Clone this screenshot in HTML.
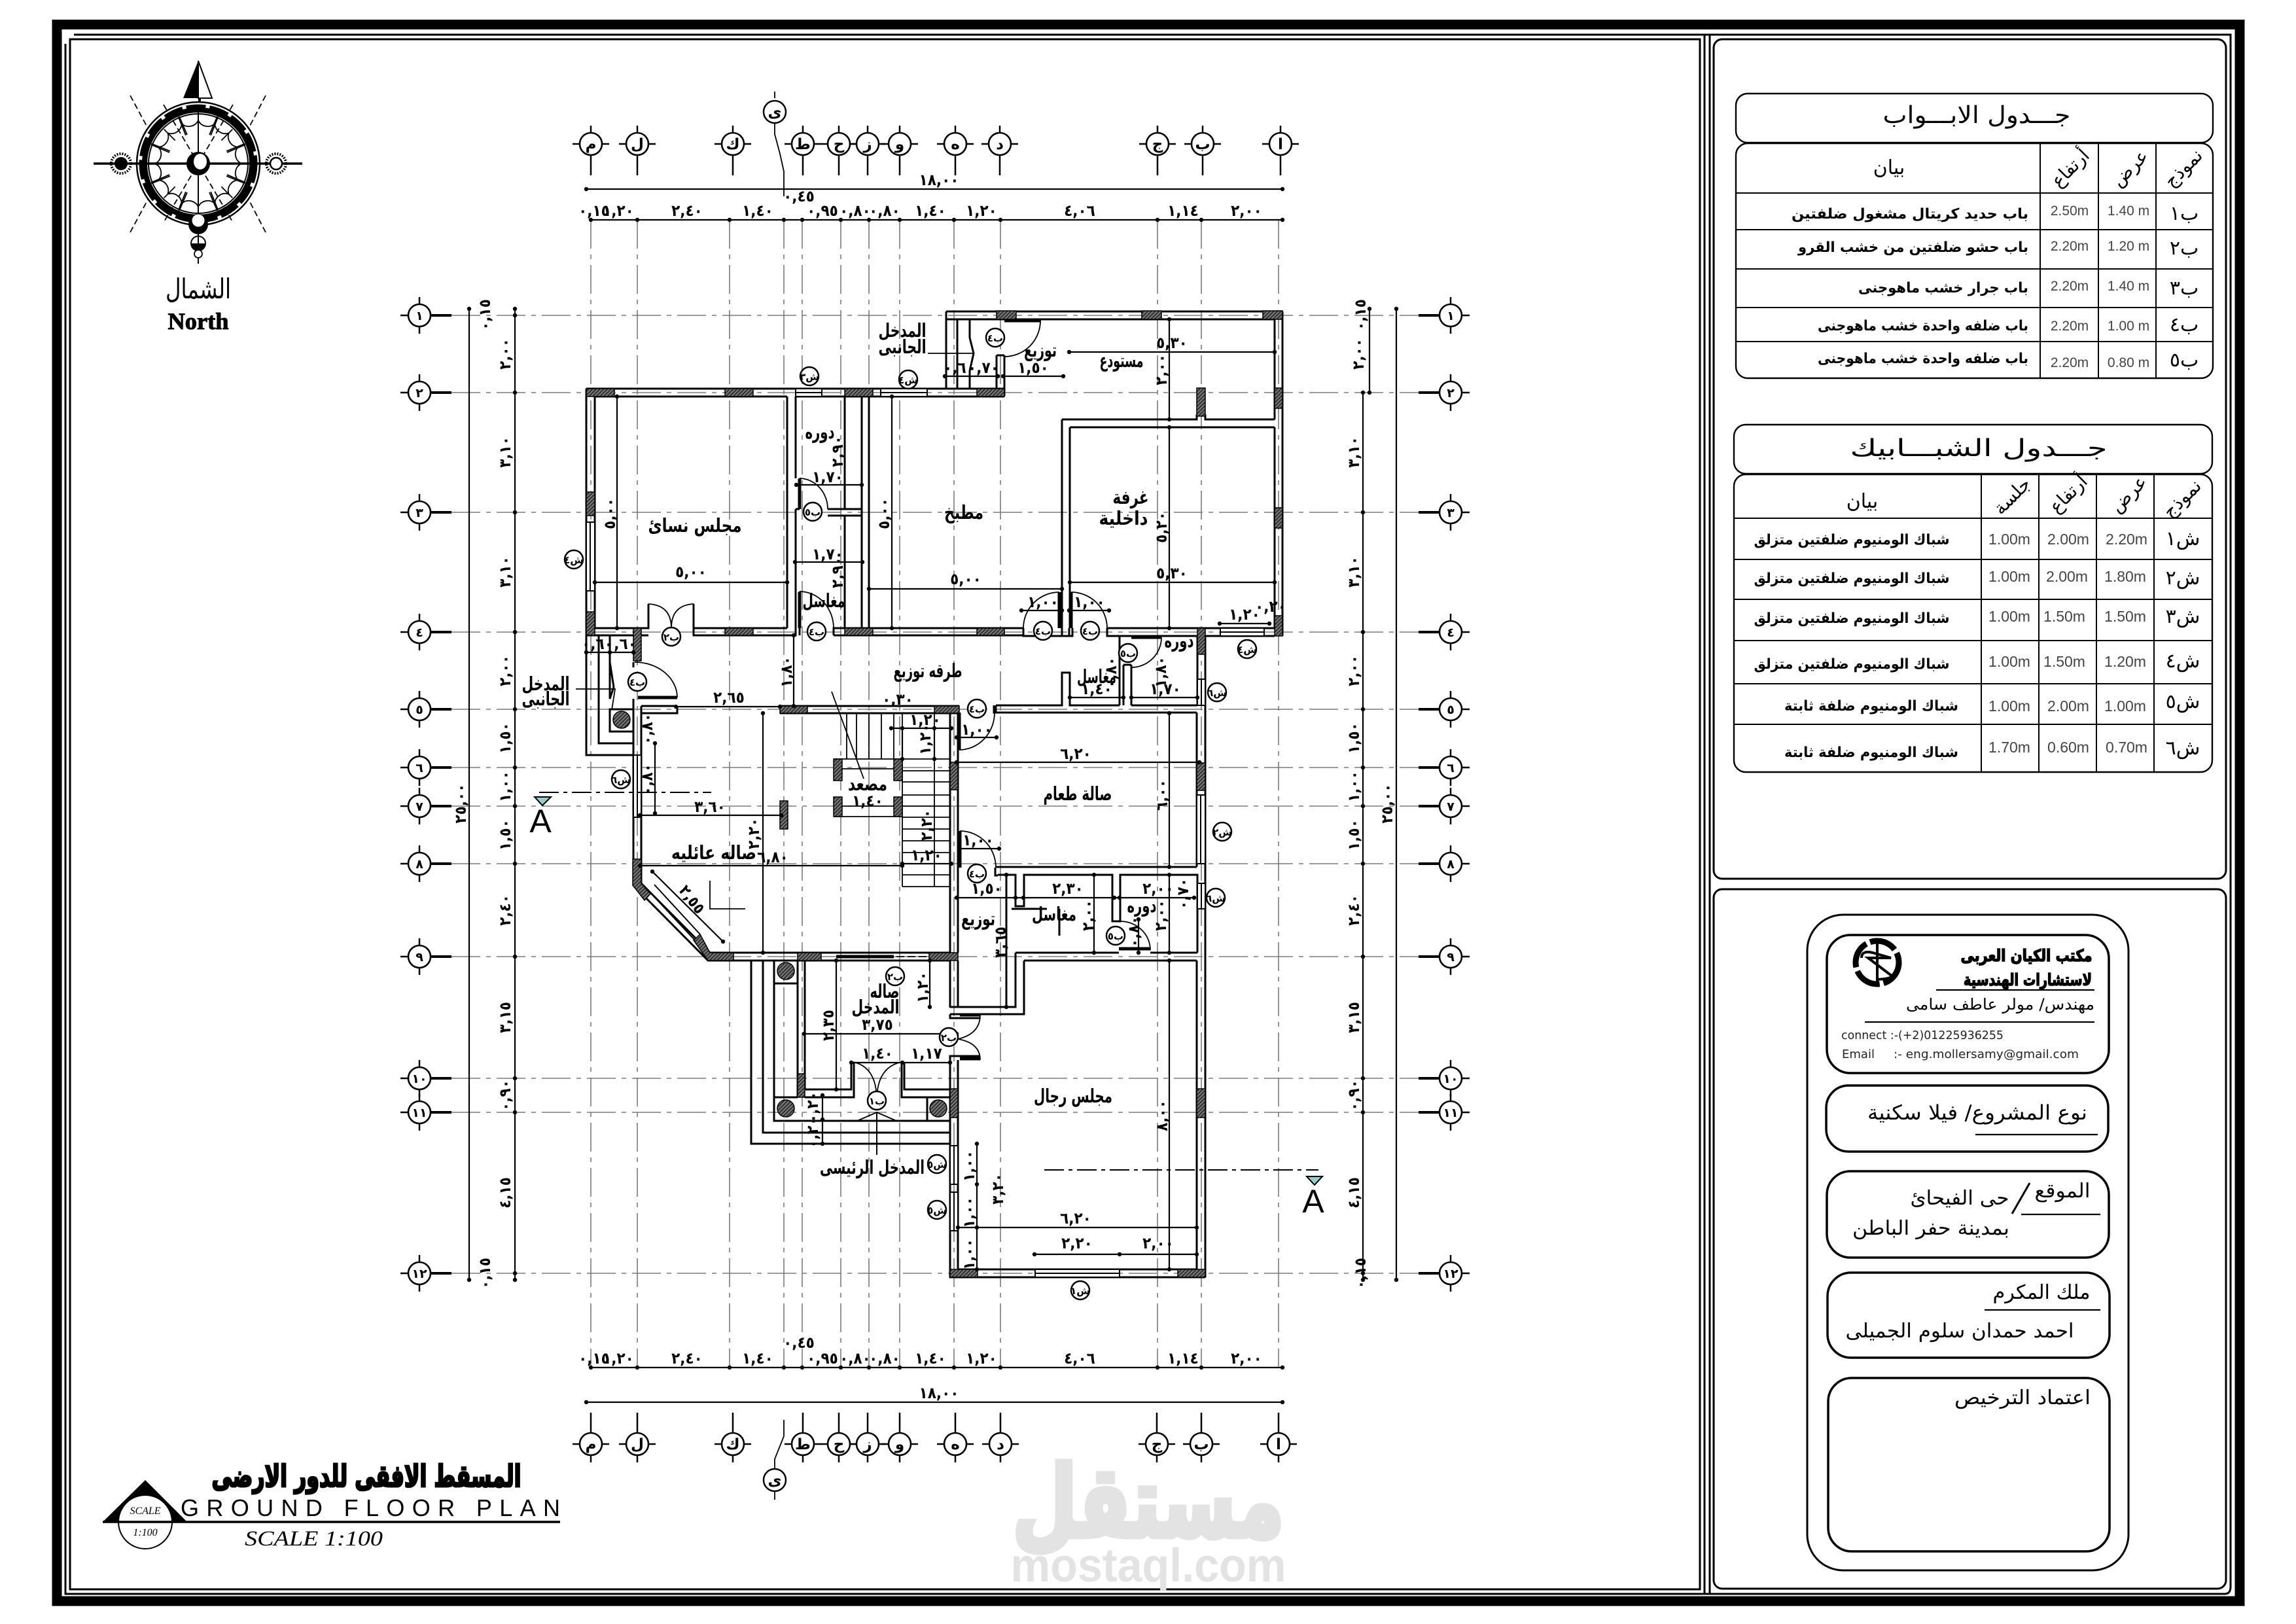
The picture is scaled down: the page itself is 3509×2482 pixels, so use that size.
<!DOCTYPE html>
<html lang="ar"><head><meta charset="utf-8"><title>Ground Floor Plan</title>
<style>
html,body{margin:0;padding:0;background:#fff}
svg{display:block}
text{font-family:"DejaVu Sans",sans-serif;fill:#000}
.a{direction:rtl;text-anchor:middle}
.w{fill:none;stroke:#000;stroke-width:3}
.t{fill:none;stroke:#000;stroke-width:1.8}
.g{fill:none;stroke:#7a7a7a;stroke-width:1.6;stroke-dasharray:44 9 7 9}
.d{fill:none;stroke:#000;stroke-width:2.2;marker-start:url(#dot);marker-mid:url(#dot);marker-end:url(#dot)}
.h{fill:url(#hat);stroke:#000;stroke-width:1.5}
.n{font-size:24px;font-weight:700;direction:rtl;text-anchor:middle;font-family:"DejaVu Sans Condensed","DejaVu Sans",sans-serif}
.r{font-size:29px;direction:rtl;text-anchor:middle;font-weight:700}
.b{font-size:15px;font-weight:700;direction:rtl;text-anchor:middle}
.c{fill:#fff;stroke:#000;stroke-width:2.5}
.v{font-family:"Liberation Sans",sans-serif;font-size:21px;text-anchor:middle;fill:#444}
.tb{font-size:22px;font-weight:700;direction:rtl;text-anchor:middle}
.hd{font-size:30px;direction:rtl;text-anchor:middle;font-family:"DejaVu Sans",sans-serif}
.f{fill:none;stroke:#000;stroke-width:3.5}
.ti{font-size:36px;direction:rtl;text-anchor:middle}
</style></head><body>
<svg xmlns="http://www.w3.org/2000/svg" width="3509" height="2482" viewBox="0 0 3509 2482">
<defs>
<pattern id="hat" width="4" height="4" patternUnits="userSpaceOnUse" patternTransform="rotate(45)"><rect width="4" height="4" fill="#777"/><rect width="1.6" height="4" fill="#222"/></pattern>
<marker id="dot" markerUnits="userSpaceOnUse" markerWidth="8" markerHeight="8" refX="4" refY="4"><circle cx="4" cy="4" r="3.2" fill="#000"/></marker>
<g id="bt"><circle r="17" fill="#fff" stroke="#000" stroke-width="2.6"/><path d="M-28 0H-17M17 0H28M0 -28V-17M0 17V48" fill="none" stroke="#000" stroke-width="2.5"/></g>
<g id="bb"><circle r="17" fill="#fff" stroke="#000" stroke-width="2.6"/><path d="M-28 0H-17M17 0H28M0 -48V-17M0 17V28" fill="none" stroke="#000" stroke-width="2.5"/></g>
<g id="bl"><circle r="17" fill="#fff" stroke="#000" stroke-width="2.6"/><path d="M-29 0H-17M0 -28V-17M0 17V28" fill="none" stroke="#000" stroke-width="2.5"/><path d="M17 0H49" stroke="#000" stroke-width="4"/></g>
<g id="br"><circle r="17" fill="#fff" stroke="#000" stroke-width="2.6"/><path d="M17 0H29M0 -28V-17M0 17V28" fill="none" stroke="#000" stroke-width="2.5"/><path d="M-49 0H-17" stroke="#000" stroke-width="4"/></g>
<path id="tk" d="M303 200V176M320 206L332 178M286 206L274 178" fill="none" stroke="#000" stroke-width="1.8"/>
</defs>
<rect width="3509" height="2482" fill="#fff"/>

<!-- frame -->
<rect x="87" y="37.500" width="3336" height="2409.500" fill="none" stroke="#000" stroke-width="15"/>
<path d="M100 67V2436H3400Q3409 2436 3409 2425V53H113" fill="none" stroke="#000" stroke-width="3"/>
<rect x="107" y="60" width="2491" height="2369" fill="none" stroke="#000" stroke-width="3"/>
<path d="M2605 53V2436M2613 53V2436" fill="none" stroke="#000" stroke-width="3"/>
<rect x="2619" y="60" width="783" height="1283" rx="13" fill="none" stroke="#000" stroke-width="3"/>
<rect x="2619" y="1359" width="783" height="1069" rx="13" fill="none" stroke="#000" stroke-width="3"/>

<!-- grid -->
<path class="g" d="M903 336V2090M974 336V2090M1115 336V2090M1198 336V2090M1226 336V2090M1285 336V2090M1328 336V2090M1375 336V2090M1458 336V2090M1529 336V2090M1769 336V2090M1836 336V2090M1954 336V2090"/>
<path class="g" d="M690 482H2170M690 600H2170M690 783H2170M690 966H2170M690 1084H2170M690 1173H2170M690 1232H2170M690 1320H2170M690 1462H2170M690 1648H2170M690 1700H2170M690 1946H2170"/>

<!-- top dims -->
<path class="d" d="M896 289H1960"/>
<path class="d" d="M903 336H974H1115H1198H1226H1285H1328H1375H1458H1529H1769H1836H1960"/>
<path class="d" d="M903 2090H974H1115H1198H1226H1285H1328H1375H1458H1529H1769H1836H1960"/>
<path class="d" d="M896 2143H1960"/>
<g class="n">
<text class="n" x="1435" y="283">١٨,٠٠</text>
<text class="n" x="1221" y="308">٠,٤٥</text>
<text class="n" x="908" y="330">٠,١٥</text><text class="n" x="945" y="330">١,٢٠</text><text class="n" x="1050" y="330">٢,٤٠</text><text class="n" x="1158" y="330">١,٤٠</text><text class="n" x="1257" y="330">٠,٩٥</text><text class="n" x="1307" y="330">٠,٨٠</text><text class="n" x="1352" y="330">٠,٨٠</text><text class="n" x="1422" y="330">١,٤٠</text><text class="n" x="1500" y="330">١,٢٠</text><text class="n" x="1650" y="330">٤,٠٦</text><text class="n" x="1808" y="330">١,١٤</text><text class="n" x="1905" y="330">٢,٠٠</text>
<text class="n" x="908" y="2084">٠,١٥</text><text class="n" x="945" y="2084">١,٢٠</text><text class="n" x="1050" y="2084">٢,٤٠</text><text class="n" x="1158" y="2084">١,٤٠</text><text class="n" x="1257" y="2084">٠,٩٥</text><text class="n" x="1307" y="2084">٠,٨٠</text><text class="n" x="1352" y="2084">٠,٨٠</text><text class="n" x="1422" y="2084">١,٤٠</text><text class="n" x="1500" y="2084">١,٢٠</text><text class="n" x="1650" y="2084">٤,٠٦</text><text class="n" x="1808" y="2084">١,١٤</text><text class="n" x="1905" y="2084">٢,٠٠</text>
<text class="n" x="1221" y="2060">٠,٤٥</text>
<text class="n" x="1435" y="2137">١٨,٠٠</text>
</g>

<!-- bubbles top/bottom -->
<g>
<use href="#bt" x="903" y="220"/><use href="#bt" x="974" y="220"/><use href="#bt" x="1120" y="220"/><use href="#bt" x="1227" y="220"/><use href="#bt" x="1282" y="220"/><use href="#bt" x="1326" y="220"/><use href="#bt" x="1375" y="220"/><use href="#bt" x="1460" y="220"/><use href="#bt" x="1528" y="220"/><use href="#bt" x="1769" y="220"/><use href="#bt" x="1838" y="220"/><use href="#bt" x="1957" y="220"/>
<use href="#bb" x="903" y="2207"/><use href="#bb" x="974" y="2207"/><use href="#bb" x="1120" y="2207"/><use href="#bb" x="1227" y="2207"/><use href="#bb" x="1282" y="2207"/><use href="#bb" x="1326" y="2207"/><use href="#bb" x="1375" y="2207"/><use href="#bb" x="1460" y="2207"/><use href="#bb" x="1529" y="2207"/><use href="#bb" x="1768" y="2207"/><use href="#bb" x="1836" y="2207"/><use href="#bb" x="1954" y="2207"/>
<circle class="c" cx="1184" cy="171" r="17"/><path class="t" d="M1184 188V205L1192 235L1198 262V300M1184 150V140"/>
<circle class="c" cx="1184" cy="2262" r="17"/><path class="t" d="M1184 2245V2230L1198 2195V2170M1184 2279V2292"/>
</g>
<g style="font-size:23px;font-weight:700;direction:rtl;text-anchor:middle">
<text x="903" y="228">م</text><text x="974" y="228">ل</text><text x="1120" y="228">ك</text><text x="1184" y="179">ى</text><text x="1227" y="228">ط</text><text x="1282" y="228">ح</text><text x="1326" y="228">ز</text><text x="1375" y="228">و</text><text x="1460" y="228">ه</text><text x="1528" y="228">د</text><text x="1769" y="228">ج</text><text x="1838" y="228">ب</text><text x="1957" y="228">ا</text>
<text x="903" y="2215">م</text><text x="974" y="2215">ل</text><text x="1120" y="2215">ك</text><text x="1184" y="2270">ى</text><text x="1227" y="2215">ط</text><text x="1282" y="2215">ح</text><text x="1326" y="2215">ز</text><text x="1375" y="2215">و</text><text x="1460" y="2215">ه</text><text x="1529" y="2215">د</text><text x="1768" y="2215">ج</text><text x="1836" y="2215">ب</text><text x="1954" y="2215">ا</text>
</g>
<!-- row bubbles -->
<g>
<use href="#bl" x="641" y="482"/><use href="#bl" x="641" y="600"/><use href="#bl" x="641" y="783"/><use href="#bl" x="641" y="966"/><use href="#bl" x="641" y="1084"/><use href="#bl" x="641" y="1173"/><use href="#bl" x="641" y="1232"/><use href="#bl" x="641" y="1320"/><use href="#bl" x="641" y="1462"/><use href="#bl" x="641" y="1648"/><use href="#bl" x="641" y="1700"/><use href="#bl" x="641" y="1946"/>
<use href="#br" x="2217" y="482"/><use href="#br" x="2217" y="600"/><use href="#br" x="2217" y="783"/><use href="#br" x="2217" y="966"/><use href="#br" x="2217" y="1084"/><use href="#br" x="2217" y="1173"/><use href="#br" x="2217" y="1232"/><use href="#br" x="2217" y="1320"/><use href="#br" x="2217" y="1462"/><use href="#br" x="2217" y="1648"/><use href="#br" x="2217" y="1700"/><use href="#br" x="2217" y="1946"/>
</g>
<g style="font-size:19px;font-weight:700;text-anchor:middle">
<text x="641" y="489">١</text><text x="641" y="607">٢</text><text x="641" y="790">٣</text><text x="641" y="973">٤</text><text x="641" y="1091">٥</text><text x="641" y="1180">٦</text><text x="641" y="1239">٧</text><text x="641" y="1327">٨</text><text x="641" y="1469">٩</text><text x="641" y="1655">١٠</text><text x="641" y="1707">١١</text><text x="641" y="1953">١٢</text>
<text x="2217" y="489">١</text><text x="2217" y="607">٢</text><text x="2217" y="790">٣</text><text x="2217" y="973">٤</text><text x="2217" y="1091">٥</text><text x="2217" y="1180">٦</text><text x="2217" y="1239">٧</text><text x="2217" y="1327">٨</text><text x="2217" y="1469">٩</text><text x="2217" y="1655">١٠</text><text x="2217" y="1707">١١</text><text x="2217" y="1953">١٢</text>
</g>
<!-- side dims -->
<path class="d" d="M717 472V1956"/>
<path class="d" d="M787 472V482V600V783V966V1084V1173V1232V1320V1462V1648V1700V1946V1956"/>
<path class="d" d="M2134 472V1956"/>
<path class="d" d="M2093 472V600"/>
<path class="d" d="M2083 600V783V966V1084V1173V1232V1320V1462V1648V1700V1946V1956"/>
<g>
<text class="n" transform="translate(706 1228) rotate(-90)" x="0" y="6">٢٥,٠٠</text>
<text class="n" transform="translate(2122 1228) rotate(-90)" x="0" y="6">٢٥,٠٠</text>
<text class="n" transform="translate(743 481) rotate(-90)" x="0" y="6">٠,١٥</text>
<text class="n" transform="translate(743 1946) rotate(-90)" x="0" y="6">٠,١٥</text>
<text class="n" transform="translate(2081 481) rotate(-90)" x="0" y="6">٠,١٥</text>
<text class="n" transform="translate(2081 1946) rotate(-90)" x="0" y="6">٠,١٥</text>
<text class="n" transform="translate(774 541) rotate(-90)" x="0" y="6">٢,٠٠</text><text class="n" transform="translate(774 691) rotate(-90)" x="0" y="6">٣,١٠</text><text class="n" transform="translate(774 874) rotate(-90)" x="0" y="6">٣,١٠</text><text class="n" transform="translate(774 1025) rotate(-90)" x="0" y="6">٢,٠٠</text><text class="n" transform="translate(774 1128) rotate(-90)" x="0" y="6">١,٥٠</text><text class="n" transform="translate(774 1202) rotate(-90)" x="0" y="6">١,٠٠</text><text class="n" transform="translate(774 1276) rotate(-90)" x="0" y="6">١,٥٠</text><text class="n" transform="translate(774 1391) rotate(-90)" x="0" y="6">٢,٤٠</text><text class="n" transform="translate(774 1555) rotate(-90)" x="0" y="6">٣,١٥</text><text class="n" transform="translate(774 1674) rotate(-90)" x="0" y="6">٠,٩٠</text><text class="n" transform="translate(774 1823) rotate(-90)" x="0" y="6">٤,١٥</text>
<text class="n" transform="translate(2078 541) rotate(-90)" x="0" y="6">٢,٠٠</text><text class="n" transform="translate(2071 691) rotate(-90)" x="0" y="6">٣,١٠</text><text class="n" transform="translate(2071 874) rotate(-90)" x="0" y="6">٣,١٠</text><text class="n" transform="translate(2071 1025) rotate(-90)" x="0" y="6">٢,٠٠</text><text class="n" transform="translate(2071 1128) rotate(-90)" x="0" y="6">١,٥٠</text><text class="n" transform="translate(2071 1202) rotate(-90)" x="0" y="6">١,٠٠</text><text class="n" transform="translate(2071 1276) rotate(-90)" x="0" y="6">١,٥٠</text><text class="n" transform="translate(2071 1391) rotate(-90)" x="0" y="6">٢,٤٠</text><text class="n" transform="translate(2071 1555) rotate(-90)" x="0" y="6">٣,١٥</text><text class="n" transform="translate(2071 1674) rotate(-90)" x="0" y="6">٠,٩٠</text><text class="n" transform="translate(2071 1823) rotate(-90)" x="0" y="6">٤,١٥</text>
</g>

<!-- walls -->
<path class="w" d="M896 594H1535M909 606H1203M1216 606H1535M896 594V971M909 606V960M909 960H991V923M896 971H991M1060 923V971H1203M1060 960H1203M1203 606V960M1216 606V731M1216 778V971H1203M1222 731V778M1222 904V971M1216 778H1222M1274 971V960H1564M1274 971H1564M1265 778H1317M1265 788H1317M1291 606V778M1291 788V960M1317 606V960M1328 606V960M1623 641V960M1635 653V960"/>
<path class="w" d="M1446 476H1960M1446 488H1948M1446 476V594M1463 488V594M1482 488V516L1488 540L1482 567V594M1960 476V972M1948 488V641M1948 653V960M1623 641H1829V635H1842V641H1948M1635 653H1948M1523 543V594M1535 543V605M1523 543H1535"/>
<path class="w" d="M1564 960V972H1623V960M1564 972H1623M1634 960V972H1639V960M1692 960V972H1948M1692 960H1948M1623 972H1640"/>
<path class="w" d="M1830 972V1078M1842 972V1952M1711 972V1078M1717 1016V1078M1729 1016V1078M1717 1016H1729M1522 1078H1623V1028H1635V1078H1711M1729 1078H1830M1522 1089H1829M1519 1078V1089H1522V1078"/>
<path class="w" d="M1192 1079H1466M1192 1090H1466M1452 1089V1456M1464 1089V1456M1829 1089V1325M1522 1325H1829M1525 1337H1538M1521 1326V1338H1525M1538 1337H1552V1385H1565V1337H1700V1408H1712V1337H1830V1456M1552 1456H1710M1758 1456H1830M1538 1337V1539M1552 1456V1539H1452M1565 1468V1550H1452M1565 1468H1829M1829 1468V1940H1464M1464 1620V1940M1452 1620V1952H1842M1700 1408H1712M1546 1389H1600M1619 1389V1430"/>
<path class="w" d="M968 1012V1020M968 1068V1353L1082 1468H1452M980 1079V1350L1085 1456H1452M980 1079H1035M980 1090H1035V1079"/>
<path class="w" d="M896 971V1154H968M915 971V1136H968M932 971V1068L938 1050L932 1012M932 1084H968V1118H932V1084"/>
<!-- entry -->
<path class="w" d="M1148 1468V1748H1452M1166 1468V1731H1452M1183 1468V1713H1452M1219 1468V1677M1230 1468V1665H1301V1623M1305 1623V1677H1230M1378 1623V1677H1452M1382 1623V1665H1452M1183 1503H1219M1183 1677H1219M1417 1677V1713M1452 1468V1540M1464 1468V1540"/>
<path class="w" d="M1452 1550V1556H1498M1452 1620V1614H1498"/>
<path d="M1467 1551H1498M1467 1618H1498" stroke="#000" stroke-width="5" fill="none"/>
<path class="t" d="M1498 1551Q1498 1580 1464 1588Q1498 1594 1498 1620M1303 1623Q1340 1630 1340 1682Q1340 1630 1379 1623M1310 1713L1340 1700L1370 1713M1340 1700V1765"/>
<path class="t" d="M1278 1456H1365M1302 1462H1420" stroke-dasharray="12 5"/>
<!-- section / dashed door -->
<path d="M1278 1462H1366" stroke="#000" stroke-width="5"/>
<!-- stairs -->
<path class="t" d="M1379 1160H1452M1379 1178H1452M1379 1195H1452M1379 1215H1452M1379 1232H1452M1379 1249H1452M1379 1267H1452M1379 1285H1452M1379 1303H1452M1379 1320H1452M1379 1337H1452M1379 1355H1452M1379 1090V1355M1428 1090V1355M1294 1090V1160M1309 1090V1160M1328 1090V1160M1347 1090V1160M1366 1090V1160M1274 1160H1379M1274 1175H1379M1274 1232H1379M1274 1248H1379M1271 1057L1320 1190"/>
<!-- columns -->
<g class="h">
<rect class="h" x="896" y="594" width="43" height="12"/><rect class="h" x="1108" y="594" width="43" height="12"/><rect class="h" x="1291" y="594" width="43" height="12"/><rect class="h" x="1493" y="594" width="42" height="12"/>
<rect class="h" x="896" y="752" width="13" height="36"/><rect class="h" x="896" y="935" width="13" height="36"/>
<rect class="h" x="1108" y="960" width="43" height="11"/><rect class="h" x="1291" y="960" width="43" height="11"/><rect class="h" x="1493" y="960" width="42" height="11"/>
<rect class="h" x="968" y="960" width="12" height="50"/>
<rect class="h" x="1523" y="475" width="30" height="13"/><rect class="h" x="1745" y="475" width="30" height="13"/><rect class="h" x="1930" y="475" width="30" height="13"/>
<rect class="h" x="1829" y="593" width="13" height="43"/><rect class="h" x="1948" y="593" width="12" height="31"/><rect class="h" x="1948" y="776" width="12" height="31"/><rect class="h" x="1948" y="941" width="12" height="31"/><rect class="h" x="1830" y="960" width="12" height="40"/>
<rect class="h" x="1192" y="1079" width="42" height="11"/><rect class="h" x="1428" y="1079" width="38" height="11"/>
<rect class="h" x="1452" y="1165" width="12" height="42"/><rect class="h" x="1829" y="1166" width="13" height="42"/>
<rect class="h" x="1274" y="1160" width="13" height="33"/><rect class="h" x="1274" y="1218" width="13" height="30"/><rect class="h" x="1366" y="1160" width="13" height="33"/><rect class="h" x="1366" y="1218" width="13" height="30"/>
<rect class="h" x="1192" y="1224" width="12" height="43"/>
<polygon class="h" points="967,1313 980,1313 980,1350 994,1366 985,1376 967,1353"/><polygon class="h" points="1060,1437 1070,1428 1085,1456 1121,1456 1121,1468 1082,1468"/>
<rect class="h" x="1219" y="1456" width="36" height="12"/><rect class="h" x="1420" y="1456" width="44" height="12"/>
<rect class="h" x="1219" y="1641" width="11" height="36"/><rect class="h" x="1452" y="1664" width="12" height="44"/><rect class="h" x="1829" y="1664" width="13" height="44"/>
<rect class="h" x="1452" y="1940" width="42" height="12"/><rect class="h" x="1800" y="1940" width="42" height="12"/>
<circle class="h" cx="1201" cy="1484" r="13"/><circle class="h" cx="1201" cy="1694" r="13"/><circle class="h" cx="1434" cy="1694" r="13"/><circle class="h" cx="950" cy="1100" r="13"/>
</g>
<rect class="w" x="932" y="1084" width="36" height="34" style="fill:none"/>
<!-- windows -->
<g fill="#fff" stroke="#000" stroke-width="2">
<rect x="1216" y="594" width="40" height="12"/><path d="M1216 600H1256"/>
<rect x="1346" y="594" width="71" height="12"/><path d="M1346 600H1417"/>
<rect x="896" y="798" width="13" height="105"/><path d="M902 798V903"/>
<rect x="1865" y="960" width="67" height="12"/><path d="M1865 966H1932"/>
<rect x="1830" y="1038" width="12" height="40"/><path d="M1836 1038V1078"/>
<rect x="1829" y="1215" width="13" height="105"/><path d="M1835 1215V1320"/>
<rect x="1830" y="1350" width="12" height="39"/><path d="M1836 1350V1389"/>
<rect x="1452" y="1751" width="12" height="59"/><path d="M1458 1751V1810"/>
<rect x="1452" y="1822" width="12" height="59"/><path d="M1458 1822V1881"/>
<rect x="1582" y="1940" width="129" height="12"/><path d="M1582 1946H1711"/>
<rect x="968" y="1154" width="12" height="95"/><path d="M974 1154V1249"/>
<path d="M990 1360L1062 1437M1000 1352L1070 1428" fill="none"/>
</g>
<!-- door leaves and arcs -->
<path d="M1535 490H1590M1222 732V778M1222 905V960M1619 905V960M1637 905V960M1729 974H1775M975 1066H1035M1466 1089V1146M1467 1270V1326M1710 1450H1758" stroke="#000" stroke-width="5" fill="none"/>
<path class="t" d="M1590 488A55 55 0 0 1 1535 545M1222 731A44 47 0 0 1 1265 778M1222 904A52 56 0 0 1 1274 960M1564 960A55 55 0 0 1 1619 905M1692 960A55 55 0 0 0 1637 905M1775 974A46 46 0 0 1 1729 1020M1035 1066A65 54 0 0 0 970 1012M1520 1089A54 57 0 0 1 1466 1146M1467 1270A55 56 0 0 1 1522 1326M1712 1408A46 44 0 0 1 1758 1452M991 923Q1026 925 1026 960Q1026 925 1060 923"/>
<!-- leaders -->
<path class="t" d="M1418 540H1488M880 1053H940L935 1085M1340 1700V1765"/>
<!-- section marks -->
<path d="M824 1211H1087" stroke="#000" stroke-width="2" stroke-dasharray="30 7 6 7" fill="none"/>
<path d="M1596 1788H2015" stroke="#000" stroke-width="2" stroke-dasharray="30 7 6 7" fill="none"/>
<path d="M817 1218H842L829 1231Z" fill="#9cc" stroke="#000" stroke-width="2"/>
<path d="M1997 1798H2021L2009 1811Z" fill="#9cc" stroke="#000" stroke-width="2"/>
<text x="826" y="1272" text-anchor="middle" style="font-family:'Liberation Sans',sans-serif;font-size:50px">A</text>
<text x="2007" y="1853" text-anchor="middle" style="font-family:'Liberation Sans',sans-serif;font-size:50px">A</text>

<!-- interior dimensions -->
<path class="d" d="M909 890H1203M1328 900H1623M1635 890H1948M1634 538H1948M1787 488V641M1787 653V960M943 606V960M1363 606V960M1217 741H1317M1215 859H1318M1213 971V1079M1444 575H1525M1533 575H1625M1561 933H1623M1634 933H1695M1864 953H1940M1635 1066H1717M1729 1066H1830M896 997H932H968M1362 1113H1454M1462 1127H1523M1462 1165H1833M1001 1136V1243M1033 1080H1192M1166 1090V1456M978 1246H1194M978 1323H1379M997 1332L1105 1439M1466 1297H1527M1787 1090V1325M1462 1372H1552H1564H1703H1711H1825M1672 1337V1456M1787 1337V1456M1740 1405V1456M1538 1337V1539M1421 1468V1539M1229 1580H1462M1278 1468V1665M1301 1624H1379H1452M1257 1674V1711V1748M1787 1468V1940M1493 1748V1810V1876V1940M1464 1876H1829M1581 1917H1711H1829M1379 1113V1160M1428 1113V1160M1379 1320H1454"/>
<path class="t" d="M1085 1346V1389H1139"/>
<g>
<text class="n" x="1056" y="882">٥,٠٠</text><text class="n" x="1476" y="893">٥,٠٠</text><text class="n" x="1791" y="884">٥,٣٠</text><text class="n" x="1791" y="532">٥,٣٠</text>
<text class="n" transform="translate(1777 565) rotate(-90)" y="6">٢,٠٠</text><text class="n" transform="translate(1777 806) rotate(-90)" y="6">٥,٢٠</text><text class="n" transform="translate(934 785) rotate(-90)" y="6">٥,٠٠</text><text class="n" transform="translate(1353 785) rotate(-90)" y="6">٥,٠٠</text><text class="n" transform="translate(1282 690) rotate(-90)" y="6">٢,٩٠</text><text class="n" transform="translate(1282 875) rotate(-90)" y="6">٢,٩٠</text>
<text class="n" x="1265" y="737">١,٧٠</text><text class="n" x="1265" y="855">١,٧٠</text><text class="n" x="1114" y="1074">٢,٦٥</text>
<text class="n" transform="translate(1204 1027) rotate(-90)" y="6">١,٨٠</text>
<text class="n" x="1466" y="570">٠,٦٠</text><text class="n" x="1503" y="570">٠,٧٠</text><text class="n" x="1579" y="570">١,٥٠</text>
<text class="n" x="1594" y="928">١,٠٠</text><text class="n" x="1665" y="928">١,٠٠</text><text class="n" x="1902" y="947">١,٢٠</text><text class="n" x="1942" y="935">٠,٢٠</text>
<text class="n" x="1676" y="1061">١,٤٠</text><text class="n" x="1781" y="1061">١,٧٠</text>
<text class="n" transform="translate(1700 1028) rotate(-90)" y="6">٠,٨٠</text><text class="n" transform="translate(1776 1027) rotate(-90)" y="6">١,٨٠</text>
<text class="n" x="913" y="992">٠,٦٠</text><text class="n" x="949" y="992">٠,٦٠</text>
<text class="n" x="1372" y="1077">٠,٣٠</text><text class="n" x="1414" y="1108">١,٢٠</text>
<text class="n" transform="translate(1416 1130) rotate(-90)" y="6">١,٢٠</text>
<text class="n" x="1493" y="1123">١,٠٠</text><text class="n" x="1644" y="1160">٦,٢٠</text>
<text class="n" transform="translate(991 1114) rotate(-90)" y="6">٠,٨٠</text><text class="n" transform="translate(991 1191) rotate(-90)" y="6">٠,٨٠</text>
<text class="n" x="1085" y="1241">٣,٦٠</text><text class="n" transform="translate(1154 1274) rotate(-90)" y="6">٢,٢٠</text><text class="n" x="1181" y="1318">٦,٨٠</text>
<text class="n" transform="translate(1056 1376) rotate(52)" y="6">٢,٥٥</text>
<text class="n" transform="translate(1418 1261) rotate(-90)" y="6">٢,٢٠</text><text class="n" x="1416" y="1315">١,٢٠</text><text class="n" x="1495" y="1292">١,٠٠</text>
<text class="n" transform="translate(1778 1215) rotate(-90)" y="6">٦,٠٠</text>
<text class="n" x="1508" y="1366">١,٥٠</text><text class="n" x="1632" y="1366">٢,٣٠</text><text class="n" x="1770" y="1366">٢,٠٠</text>
<text class="n" transform="translate(1810 1366) rotate(-90)" y="6">٠,٧٠</text>
<text class="n" transform="translate(1665 1399) rotate(-90)" y="6">٢,٠٠</text><text class="n" transform="translate(1776 1399) rotate(-90)" y="6">٢,٠٠</text><text class="n" transform="translate(1735 1424) rotate(-90)" y="6">٠,٨٠</text><text class="n" transform="translate(1531 1440) rotate(-90)" y="6">٣,٦٥</text>
<text class="n" transform="translate(1412 1509) rotate(-90)" y="6">١,٢٠</text>
<text class="n" x="1341" y="1574">٣,٧٥</text><text class="n" transform="translate(1268 1567) rotate(-90)" y="6">٢,٣٥</text>
<text class="n" x="1341" y="1618">١,٤٠</text><text class="n" x="1416" y="1618">١,١٧</text>
<text class="n" transform="translate(1244 1692) rotate(-90)" y="6">٠,٢٠</text><text class="n" transform="translate(1244 1731) rotate(-90)" y="6">٠,٢٠</text>
<text class="n" transform="translate(1778 1705) rotate(-90)" y="6">٨,٠٠</text>
<text class="n" transform="translate(1483 1782) rotate(-90)" y="6">١,٠٠</text><text class="n" transform="translate(1483 1853) rotate(-90)" y="6">١,٠٠</text><text class="n" transform="translate(1483 1917) rotate(-90)" y="6">١,٠٠</text>
<text class="n" transform="translate(1527 1817) rotate(-90)" y="6">٣,٢٠</text>
<text class="n" x="1644" y="1870">٦,٢٠</text><text class="n" x="1646" y="1908">٢,٢٠</text><text class="n" x="1770" y="1908">٢,٠٠</text>
</g>

<!-- room labels -->
<text class="r" x="1062" y="813" textLength="143" lengthAdjust="spacingAndGlyphs">مجلس نسائ</text>
<text class="r" x="1473" y="793" textLength="60" lengthAdjust="spacingAndGlyphs">مطبخ</text>
<text class="r" x="1728" y="770" textLength="55" lengthAdjust="spacingAndGlyphs">غرفة</text>
<text class="r" x="1717" y="802" textLength="75" lengthAdjust="spacingAndGlyphs">داخلية</text>
<text class="r" x="1714" y="561" textLength="67" lengthAdjust="spacingAndGlyphs">مستودع</text>
<text class="r" x="1590" y="545" textLength="50" lengthAdjust="spacingAndGlyphs">توزيع</text>
<text class="r" x="1379" y="515" textLength="73" lengthAdjust="spacingAndGlyphs">المدخل</text>
<text class="r" x="1379" y="540" textLength="73" lengthAdjust="spacingAndGlyphs">الجانبى</text>
<text class="r" x="1253" y="670" textLength="45" lengthAdjust="spacingAndGlyphs">دوره</text>
<text class="r" x="1259" y="928" textLength="65" lengthAdjust="spacingAndGlyphs">مغاسل</text>
<text class="r" x="1418" y="1035" textLength="105" lengthAdjust="spacingAndGlyphs">طرقه توزيع</text>
<text class="r" x="1802" y="989" textLength="45" lengthAdjust="spacingAndGlyphs">دوره</text>
<text class="r" x="1676" y="1044" textLength="60" lengthAdjust="spacingAndGlyphs">مغاسل</text>
<text class="r" x="834" y="1055" textLength="73" lengthAdjust="spacingAndGlyphs">المدخل</text>
<text class="r" x="834" y="1078" textLength="73" lengthAdjust="spacingAndGlyphs">الجانبى</text>
<text class="r" x="1647" y="1223" textLength="105" lengthAdjust="spacingAndGlyphs">صالة طعام</text>
<text class="r" x="1326" y="1208" textLength="60" lengthAdjust="spacingAndGlyphs">مصعد</text>
<text class="n" x="1326" y="1232">١,٤٠</text>
<text class="r" x="1091" y="1313" textLength="130" lengthAdjust="spacingAndGlyphs">صاله عائليه</text>
<text class="r" x="1352" y="1525" textLength="45" lengthAdjust="spacingAndGlyphs">صاله</text>
<text class="r" x="1338" y="1549" textLength="73" lengthAdjust="spacingAndGlyphs">المدخل</text>
<text class="r" x="1495" y="1414" textLength="52" lengthAdjust="spacingAndGlyphs">توزيع</text>
<text class="r" x="1611" y="1407" textLength="68" lengthAdjust="spacingAndGlyphs">مغاسل</text>
<text class="r" x="1745" y="1394" textLength="45" lengthAdjust="spacingAndGlyphs">دوره</text>
<text class="r" x="1640" y="1685" textLength="120" lengthAdjust="spacingAndGlyphs">مجلس رجال</text>
<text class="r" x="1333" y="1794" textLength="160" lengthAdjust="spacingAndGlyphs">المدخل الرئيسى</text>

<!-- tag bubbles -->
<g>
<circle class="c" cx="1237" cy="575" r="14"/><circle class="c" cx="1388" cy="580" r="14"/><circle class="c" cx="1521" cy="516" r="14"/><circle class="c" cx="877" cy="855" r="14"/><circle class="c" cx="1242" cy="782" r="14"/><circle class="c" cx="1026" cy="973" r="14"/><circle class="c" cx="1248" cy="965" r="14"/><circle class="c" cx="1594" cy="964" r="14"/><circle class="c" cx="1666" cy="964" r="14"/><circle class="c" cx="1906" cy="992" r="14"/><circle class="c" cx="1724" cy="998" r="14"/><circle class="c" cx="1860" cy="1058" r="14"/><circle class="c" cx="974" cy="1042" r="14"/><circle class="c" cx="1493" cy="1083" r="14"/><circle class="c" cx="949" cy="1191" r="14"/><circle class="c" cx="1868" cy="1271" r="14"/><circle class="c" cx="1493" cy="1335" r="14"/><circle class="c" cx="1858" cy="1372" r="14"/><circle class="c" cx="1705" cy="1430" r="14"/><circle class="c" cx="1368" cy="1492" r="14"/><circle class="c" cx="1450" cy="1585" r="14"/><circle class="c" cx="1340" cy="1682" r="14"/><circle class="c" cx="1432" cy="1779" r="14"/><circle class="c" cx="1432" cy="1849" r="14"/><circle class="c" cx="1651" cy="1972" r="14"/>
<text class="b" x="1237" y="581">ش٣</text><text class="b" x="1388" y="586">ش٤</text><text class="b" x="1521" y="522">ب٤</text><text class="b" x="877" y="861">ش٤</text><text class="b" x="1242" y="788">ب٥</text><text class="b" x="1026" y="979">ب٢</text><text class="b" x="1248" y="971">ب٤</text><text class="b" x="1594" y="970">ب٤</text><text class="b" x="1666" y="970">ب٤</text><text class="b" x="1906" y="998">ش٤</text><text class="b" x="1724" y="1004">ب٥</text><text class="b" x="1860" y="1064">ش٦</text><text class="b" x="974" y="1048">ب٤</text><text class="b" x="1493" y="1089">ب٤</text><text class="b" x="949" y="1197">ش٦</text><text class="b" x="1868" y="1277">ش٢</text><text class="b" x="1493" y="1341">ب٤</text><text class="b" x="1858" y="1378">ش٦</text><text class="b" x="1705" y="1436">ب٥</text><text class="b" x="1368" y="1498">ب٢</text><text class="b" x="1450" y="1591">ب٢</text><text class="b" x="1340" y="1688">ب١</text><text class="b" x="1432" y="1785">ش٥</text><text class="b" x="1432" y="1855">ش٥</text><text class="b" x="1651" y="1978">ش١</text>
</g>

<!-- compass -->
<g>
<path d="M303 93L280 150H303V200H307V150H303Z" fill="#000"/><path d="M303 93L324 150H303Z" fill="#fff" stroke="#000" stroke-width="2"/>
<circle cx="303" cy="250" r="94" fill="#fff" stroke="#000" stroke-width="2.5"/>
<circle cx="303" cy="250" r="88" fill="none" stroke="#000" stroke-width="5" stroke-dasharray="30 6"/>
<circle cx="303" cy="250" r="82" fill="none" stroke="#000" stroke-width="8"/>
<circle cx="303" cy="250" r="76" fill="#fff" stroke="#000" stroke-width="2"/>
<path d="M369 250A16 16 0 0 0 364 275.300A16 16 0 0 0 349.700 296.700A16 16 0 0 0 328.300 311A16 16 0 0 0 303 316A16 16 0 0 0 277.700 311A16 16 0 0 0 256.300 296.700A16 16 0 0 0 242 275.300A16 16 0 0 0 237 250A16 16 0 0 0 242 224.700A16 16 0 0 0 256.300 203.300A16 16 0 0 0 277.700 189A16 16 0 0 0 303 184A16 16 0 0 0 328.300 189A16 16 0 0 0 349.700 203.300A16 16 0 0 0 364 224.700A16 16 0 0 0 369 250Z" fill="none" stroke="#000" stroke-width="1.8"/>
<use href="#tk"/><use href="#tk" transform="rotate(45 303 250)"/><use href="#tk" transform="rotate(90 303 250)"/><use href="#tk" transform="rotate(135 303 250)"/><use href="#tk" transform="rotate(180 303 250)"/><use href="#tk" transform="rotate(225 303 250)"/><use href="#tk" transform="rotate(270 303 250)"/><use href="#tk" transform="rotate(315 303 250)"/>
<path d="M143 250H462" stroke="#000" stroke-width="3.500"/><path d="M303 170V403" stroke="#000" stroke-width="2"/>
<path d="M199 146L226 196M406 146L380 196M199 355L226 305M406 355L380 305M250 160L356 340M356 160L250 340" stroke="#000" stroke-width="1.8" stroke-dasharray="9 5" fill="none"/>
<circle cx="303" cy="250" r="18" fill="#000"/><ellipse cx="306" cy="247" rx="10" ry="12" fill="#fff"/>
<circle cx="185" cy="250" r="10" fill="#000"/><circle cx="185" cy="250" r="15" fill="none" stroke="#000" stroke-width="4" stroke-dasharray="2 2"/>
<circle cx="422" cy="250" r="9" fill="#fff" stroke="#000" stroke-width="2.5"/><circle cx="422" cy="250" r="15" fill="none" stroke="#000" stroke-width="4" stroke-dasharray="2 2"/>
<circle cx="303" cy="343" r="15" fill="#000"/><ellipse cx="303" cy="337" rx="10" ry="10" fill="#fff" stroke="#000"/>
<path d="M292 372A11 11 0 0 0 314 372Z" fill="#000"/><circle cx="303" cy="372" r="11" fill="none" stroke="#000" stroke-width="2"/>
<circle cx="303" cy="388" r="6" fill="#fff" stroke="#000" stroke-width="1.8"/>
</g>
<text x="303" y="456" text-anchor="middle" style="font-family:'DejaVu Sans',serif;font-size:42px;direction:rtl" textLength="100" lengthAdjust="spacingAndGlyphs">الشمال</text>
<text x="303" y="503" text-anchor="middle" style="font-family:'Liberation Serif',serif;font-size:36px;font-weight:700" textLength="93" lengthAdjust="spacingAndGlyphs" stroke="#000" stroke-width="1">North</text>

<!-- title -->
<text x="560" y="2272" class="a" style="font-size:46px;font-weight:700" stroke="#000" stroke-width="3" textLength="473" lengthAdjust="spacingAndGlyphs">المسقط الافقى للدور الارضى</text>
<path d="M222 2262L286 2326H157Z" fill="#000"/>
<circle cx="222" cy="2326" r="41" fill="#fff" stroke="#000" stroke-width="2"/>
<path d="M157 2326H856" stroke="#000" stroke-width="3.500"/>
<text x="222" y="2314" text-anchor="middle" style="font-family:'Liberation Serif',serif;font-style:italic;font-size:16px">SCALE</text>
<text x="222" y="2347" text-anchor="middle" style="font-family:'Liberation Serif',serif;font-style:italic;font-size:16px">1:100</text>
<text x="276" y="2317" style="font-family:'Liberation Sans',sans-serif;font-size:36px" textLength="580" lengthAdjust="spacing">GROUND FLOOR PLAN</text>
<text x="374" y="2362" style="font-family:'Liberation Serif',serif;font-style:italic;font-size:33px" textLength="211" lengthAdjust="spacingAndGlyphs">SCALE 1:100</text>

<!-- door table -->
<rect class="t" x="2653" y="143" width="729" height="75" rx="18" style="stroke-width:2.4"/>
<text class="ti" x="3021" y="188" textLength="287" lengthAdjust="spacingAndGlyphs">جـــدول الابـــواب</text>
<rect class="t" x="2653" y="219" width="729" height="359" rx="18" style="stroke-width:2.4"/>
<path class="t" d="M3118 219V578M3207 219V578M3295 219V578M2653 295H3382M2653 351H3382M2653 411H3382M2653 470H3382M2653 522H3382" style="stroke-width:2"/>
<text class="hd" x="2887" y="266">بيان</text>
<g>
<text class="hd" transform="translate(3165 258) rotate(-45)" y="8" style="font-size:28px">أرتفاع</text>
<text class="hd" transform="translate(3256 258) rotate(-45)" y="8" style="font-size:28px">عرض</text>
<text class="hd" transform="translate(3338 258) rotate(-45)" y="8" style="font-size:28px">نموذج</text>
</g>
<text class="tb" x="2919" y="334" textLength="362" lengthAdjust="spacingAndGlyphs">باب حديد كريتال مشغول ضلفتين</text>
<text class="tb" x="2924" y="385" textLength="352" lengthAdjust="spacingAndGlyphs">باب حشو ضلفتين من خشب القرو</text>
<text class="tb" x="2970" y="447" textLength="260" lengthAdjust="spacingAndGlyphs">باب جرار خشب ماهوجنى</text>
<text class="tb" x="2939" y="505" textLength="322" lengthAdjust="spacingAndGlyphs">باب ضلفه واحدة خشب ماهوجنى</text>
<text class="tb" x="2939" y="555" textLength="322" lengthAdjust="spacingAndGlyphs">باب ضلفه واحدة خشب ماهوجنى</text>
<text class="v" x="3163" y="329">2.50m</text><text class="v" x="3253" y="329">1.40 m</text>
<text class="v" x="3163" y="383">2.20m</text><text class="v" x="3253" y="383">1.20 m</text>
<text class="v" x="3163" y="444">2.20m</text><text class="v" x="3253" y="444">1.40 m</text>
<text class="v" x="3163" y="505">2.20m</text><text class="v" x="3253" y="505">1.00 m</text>
<text class="v" x="3163" y="561">2.20m</text><text class="v" x="3253" y="561">0.80 m</text>
<text class="hd" x="3338" y="336">ب١</text><text class="hd" x="3338" y="389">ب٢</text><text class="hd" x="3338" y="450">ب٣</text><text class="hd" x="3338" y="506">ب٤</text><text class="hd" x="3338" y="560">ب٥</text>

<!-- window table -->
<rect class="t" x="2650" y="649" width="731" height="75" rx="18" style="stroke-width:2.4"/>
<text class="ti" x="3024" y="697" textLength="393" lengthAdjust="spacingAndGlyphs">جـــدول الشبـــابيك</text>
<rect class="t" x="2650" y="725" width="731" height="455" rx="18" style="stroke-width:2.4"/>
<path class="t" d="M3028 725V1180M3116 725V1180M3204 725V1180M3292 725V1180M2650 792H3381M2650 855H3381M2650 916H3381M2650 979H3381M2650 1045H3381M2650 1107H3381" style="stroke-width:2"/>
<text class="hd" x="2846" y="776">بيان</text>
<text class="hd" transform="translate(3076 759) rotate(-45)" y="8" style="font-size:28px">جلسة</text>
<text class="hd" transform="translate(3162 756) rotate(-45)" y="8" style="font-size:28px">أرتفاع</text>
<text class="hd" transform="translate(3254 756) rotate(-45)" y="8" style="font-size:28px">عرض</text>
<text class="hd" transform="translate(3336 763) rotate(-45)" y="8" style="font-size:28px">نموذج</text>
<text class="tb" x="2830" y="832" textLength="299" lengthAdjust="spacingAndGlyphs">شباك الومنيوم ضلفتين متزلق</text>
<text class="tb" x="2830" y="891" textLength="299" lengthAdjust="spacingAndGlyphs">شباك الومنيوم ضلفتين متزلق</text>
<text class="tb" x="2830" y="952" textLength="299" lengthAdjust="spacingAndGlyphs">شباك الومنيوم ضلفتين متزلق</text>
<text class="tb" x="2830" y="1022" textLength="299" lengthAdjust="spacingAndGlyphs">شباك الومنيوم ضلفتين متزلق</text>
<text class="tb" x="2860" y="1086" textLength="266" lengthAdjust="spacingAndGlyphs">شباك الومنيوم ضلفة ثابتة</text>
<text class="tb" x="2860" y="1157" textLength="266" lengthAdjust="spacingAndGlyphs">شباك الومنيوم ضلفة ثابتة</text>
<g>
<text class="v" x="3071" y="832" style="font-size:23px">1.00m</text><text class="v" x="3161" y="832" style="font-size:23px">2.00m</text><text class="v" x="3250" y="832" style="font-size:23px">2.20m</text>
<text class="v" x="3071" y="889" style="font-size:23px">1.00m</text><text class="v" x="3159" y="889" style="font-size:23px">2.00m</text><text class="v" x="3248" y="889" style="font-size:23px">1.80m</text>
<text class="v" x="3071" y="950" style="font-size:23px">1.00m</text><text class="v" x="3155" y="950" style="font-size:23px">1.50m</text><text class="v" x="3248" y="950" style="font-size:23px">1.50m</text>
<text class="v" x="3071" y="1019" style="font-size:23px">1.00m</text><text class="v" x="3155" y="1019" style="font-size:23px">1.50m</text><text class="v" x="3248" y="1019" style="font-size:23px">1.20m</text>
<text class="v" x="3071" y="1087" style="font-size:23px">1.00m</text><text class="v" x="3161" y="1087" style="font-size:23px">2.00m</text><text class="v" x="3248" y="1087" style="font-size:23px">1.00m</text>
<text class="v" x="3071" y="1150" style="font-size:23px">1.70m</text><text class="v" x="3161" y="1150" style="font-size:23px">0.60m</text><text class="v" x="3250" y="1150" style="font-size:23px">0.70m</text>
</g>
<text class="hd" x="3336" y="833">ش١</text><text class="hd" x="3336" y="893">ش٢</text><text class="hd" x="3336" y="952">ش٣</text><text class="hd" x="3336" y="1020">ش٤</text><text class="hd" x="3336" y="1082">ش٥</text><text class="hd" x="3336" y="1153">ش٦</text>

<!-- title block -->
<rect x="2762" y="1398" width="491" height="1002" rx="55" fill="none" stroke="#000" stroke-width="3"/>
<rect class="f" x="2792" y="1429" width="431" height="211" rx="36"/>
<rect class="f" x="2791" y="1659" width="431" height="101" rx="34"/>
<rect class="f" x="2792" y="1790" width="431" height="132" rx="36"/>
<rect class="f" x="2793" y="1945" width="431" height="130" rx="36"/>
<rect class="f" x="2794" y="2106" width="430" height="265" rx="36"/>
<circle cx="2869" cy="1471" r="33" fill="none" stroke="#000" stroke-width="9" stroke-dasharray="42 6"/>
<path d="M2869 1434V1508M2845 1464Q2845 1452 2862 1456L2890 1464H2855L2892 1492Q2888 1496 2868 1497" fill="none" stroke="#000" stroke-width="4"/>
<text x="3097" y="1469" class="a" style="font-size:25px;font-weight:700" stroke="#000" stroke-width="1.5" textLength="201" lengthAdjust="spacingAndGlyphs">مكتب الكيان العربى</text>
<text x="3099" y="1506" class="a" style="font-size:25px;font-weight:700" stroke="#000" stroke-width="1.5" textLength="196" lengthAdjust="spacingAndGlyphs">لاستشارات الهندسية</text>
<path d="M2959 1513H3201M2850 1562H3201" stroke="#000" stroke-width="2.2"/>
<text x="3057" y="1543" class="a" style="font-size:24px" textLength="288" lengthAdjust="spacingAndGlyphs">مهندس/ مولر عاطف سامى</text>
<text x="2814" y="1588" style="font-family:'DejaVu Sans',sans-serif;font-size:18px;fill:#222" textLength="248" lengthAdjust="spacingAndGlyphs">connect :-(+2)01225936255</text>
<text x="2815" y="1617" style="font-family:'DejaVu Sans',sans-serif;font-size:18px;fill:#222">Email</text>
<text x="2894" y="1617" style="font-family:'DejaVu Sans',sans-serif;font-size:18px;fill:#222" textLength="283" lengthAdjust="spacingAndGlyphs">:- eng.mollersamy@gmail.com</text>
<text x="3022" y="1711" class="a" style="font-size:31px" textLength="336" lengthAdjust="spacingAndGlyphs">نوع المشروع/ فيلا سكنية</text>
<path d="M3019 1734H3206M3089 1856H3210M3033 2002H3210" stroke="#000" stroke-width="2.2"/>
<text x="3152" y="1830" class="a" style="font-size:30px" textLength="85" lengthAdjust="spacingAndGlyphs">الموقع</text>
<path d="M3102 1808L3075 1855" stroke="#000" stroke-width="3"/>
<text x="2995" y="1841" class="a" style="font-size:30px" textLength="151" lengthAdjust="spacingAndGlyphs">حى الفيحائ</text>
<text x="2951" y="1887" class="a" style="font-size:30px" textLength="240" lengthAdjust="spacingAndGlyphs">بمدينة حفر الباطن</text>
<text x="3120" y="1985" class="a" style="font-size:30px" textLength="149" lengthAdjust="spacingAndGlyphs">ملك المكرم</text>
<text x="2995" y="2044" class="a" style="font-size:30px" textLength="349" lengthAdjust="spacingAndGlyphs">احمد حمدان سلوم الجميلى</text>
<text x="3091" y="2146" class="a" style="font-size:30px" textLength="208" lengthAdjust="spacingAndGlyphs">اعتماد الترخيص</text>

<!-- watermark -->
<text x="1755" y="2348" class="a" style="font-size:150px;font-weight:700;fill:#e3e3e3;stroke:#e3e3e3;stroke-width:9" textLength="415" lengthAdjust="spacingAndGlyphs">مستقل</text>
<text x="1755" y="2417" text-anchor="middle" style="font-family:'Liberation Sans',sans-serif;font-size:72px;font-weight:700;fill:#e3e3e3" textLength="421" lengthAdjust="spacingAndGlyphs">mostaql.com</text>
</svg>
</body></html>
